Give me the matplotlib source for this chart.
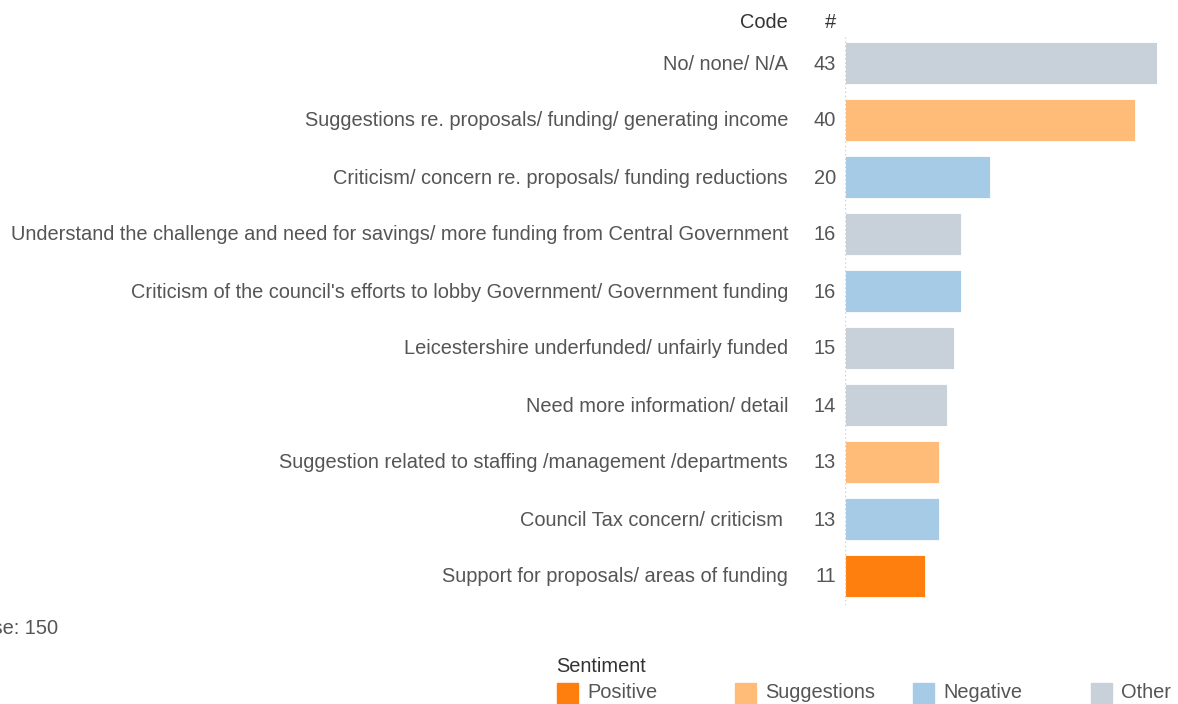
import matplotlib.pyplot as plt
import matplotlib.patches as mpatches

# data, top to bottom
codes = [
    "No/ none/ N/A",
    "Suggestions re. proposals/ funding/ generating income",
    "Criticism/ concern re. proposals/ funding reductions",
    "Understand the challenge and need for savings/ more funding from Central Government",
    "Criticism of the council's efforts to lobby Government/ Government funding",
    "Leicestershire underfunded/ unfairly funded",
    "Need more information/ detail",
    "Suggestion related to staffing /management /departments",
    "Council Tax concern/ criticism ",
    "Support for proposals/ areas of funding",
]
counts = [43, 40, 20, 16, 16, 15, 14, 13, 13, 11]
sentiment = ["Other", "Suggestions", "Negative", "Other", "Negative",
             "Other", "Other", "Suggestions", "Negative", "Positive"]

legend_order = ["Positive", "Suggestions", "Negative", "Other"]
palette = {"Positive": "#ff7f0e", "Suggestions": "#ffbb78",
           "Negative": "#a6cbe7", "Other": "#c8d0da"}

TXT = "#555555"
plt.rcParams['font.family'] = ['Liberation Sans', 'DejaVu Sans']

W, H = 1178, 704
fig = plt.figure(figsize=(W / 100, H / 100), dpi=100)

# axes placed in pixel terms
x0, x43 = 845, 1157
top, bot = 34.5, 604.5
ax = fig.add_axes([x0 / W, 1 - bot / H, (x43 - x0) / W, (bot - top) / H])

ypos = list(range(len(codes)))
ax.barh(ypos, counts, height=0.75, color=[palette[s] for s in sentiment],
        edgecolor="white", linewidth=0.6)
ax.set_xlim(0, max(counts))
ax.set_ylim(len(codes) - 0.5, -0.5)
ax.axis('off')
ax.axvline(0, color="#d0d0d0", lw=1, ls=(0, (1, 2)))

fs = 14.4
for y, lab, n in zip(ypos, codes, counts):
    ax.annotate(lab, (0, y), xytext=(-57, -1), textcoords='offset pixels',
                ha='right', va='center', fontsize=fs, color=TXT)
    ax.annotate(str(n), (0, y), xytext=(-9, -1), textcoords='offset pixels',
                ha='right', va='center', fontsize=fs, color=TXT)

# column headers
fig.text(788 / W, 1 - 22 / H, "Code", ha='right', va='center', fontsize=fs, color="#333333")
fig.text(836 / W, 1 - 22 / H, "#", ha='right', va='center', fontsize=fs, color="#333333")

# base note (clipped at the left edge like the original)
fig.text(58 / W, 1 - 629 / H, "Base: 150", ha='right', va='center', fontsize=fs, color=TXT)

# legend, drawn by hand so the columns are evenly spaced
fig.text(556 / W, 1 - 667 / H, "Sentiment", ha='left', va='center', fontsize=fs, color="#333333")
for i, s in enumerate(legend_order):
    lx = 557 + i * 178
    fig.patches.append(mpatches.Rectangle((lx / W, 1 - 703 / H), 21 / W, 20 / H,
                                          transform=fig.transFigure, color=palette[s]))
    fig.text((lx + 30) / W, 1 - 693 / H, s, ha='left', va='center', fontsize=fs, color=TXT)

fig.savefig("out.png", dpi=100, facecolor="white")
